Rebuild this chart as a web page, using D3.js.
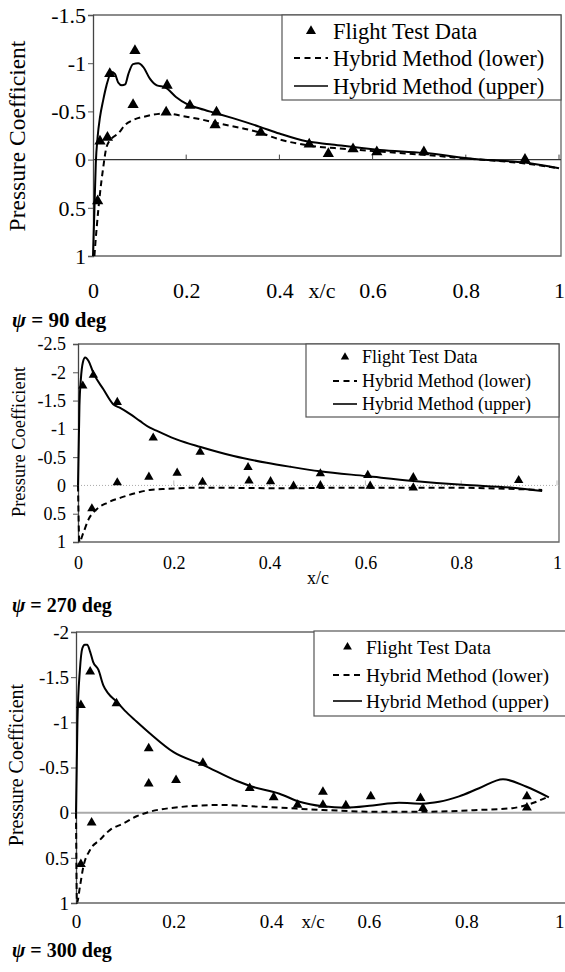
<!DOCTYPE html>
<html><head><meta charset="utf-8">
<script src="https://cdn.jsdelivr.net/npm/d3@7"></script>
<style>body{margin:0;background:#fff}svg{display:block}text{font-family:"Times New Roman","Liberation Serif",serif;fill:#000}</style>
</head><body>
<script>
// ---- Data (x/c, Cp) ----
const xTicks = [0, 0.2, 0.4, 0.6, 0.8, 1];
const yTicks90 = [-1.5, -1, -0.5, 0, 0.5, 1];
const yTicks270 = [-2.5, -2, -1.5, -1, -0.5, 0, 0.5, 1];
const yTicks300 = [-2, -1.5, -1, -0.5, 0, 0.5, 1];
const legendLabels = ["Flight Test Data", "Hybrid Method (lower)", "Hybrid Method (upper)"];
const titles = ["90", "270", "300"];

const test90 = [[0.01,0.43],[0.015,-0.19],[0.031,-0.23],[0.036,-0.89],[0.086,-0.57],[0.09,-1.13],[0.157,-0.49],[0.159,-0.77],[0.208,-0.56],[0.262,-0.36],[0.265,-0.49],[0.36,-0.28],[0.464,-0.16],[0.505,-0.06],[0.558,-0.11],[0.609,-0.08],[0.71,-0.08],[0.927,0.0]];
const upper90 = [[0,1],[0.003,0.53],[0.006,0.04],[0.01,-0.24],[0.015,-0.44],[0.022,-0.62],[0.029,-0.77],[0.04,-0.91],[0.047,-0.89],[0.054,-0.80],[0.062,-0.77],[0.069,-0.78],[0.076,-0.89],[0.086,-0.99],[0.097,-1.0],[0.108,-0.96],[0.122,-0.84],[0.137,-0.77],[0.155,-0.75],[0.178,-0.65],[0.20,-0.58],[0.229,-0.53],[0.265,-0.48],[0.30,-0.43],[0.358,-0.34],[0.40,-0.27],[0.458,-0.19],[0.508,-0.16],[0.616,-0.10],[0.709,-0.07],[0.83,0.0],[0.927,0.03],[1.0,0.09]];
const lower90 = [[0.003,1.0],[0.008,0.70],[0.015,0.35],[0.022,0.08],[0.029,-0.13],[0.04,-0.22],[0.054,-0.27],[0.069,-0.36],[0.086,-0.41],[0.114,-0.45],[0.157,-0.48],[0.194,-0.45],[0.229,-0.42],[0.265,-0.38],[0.358,-0.28],[0.40,-0.21],[0.458,-0.15],[0.544,-0.11],[0.709,-0.05],[0.83,0.0],[0.927,0.04],[1.0,0.09]];

const test270 = [[0.01,-1.76],[0.032,-1.95],[0.082,-1.47],[0.082,-0.05],[0.029,0.41],[0.157,-0.84],[0.148,-0.15],[0.207,-0.22],[0.255,-0.59],[0.26,-0.06],[0.355,-0.32],[0.357,-0.08],[0.402,-0.07],[0.45,0.01],[0.506,-0.21],[0.506,0.0],[0.605,-0.18],[0.61,0.01],[0.70,-0.14],[0.70,0.04],[0.92,-0.09]];
const upper270 = [[0,0],[0.003,-1.40],[0.006,-1.88],[0.01,-2.17],[0.015,-2.26],[0.022,-2.20],[0.032,-1.99],[0.053,-1.70],[0.074,-1.43],[0.088,-1.37],[0.109,-1.26],[0.129,-1.14],[0.15,-1.02],[0.166,-0.96],[0.207,-0.81],[0.256,-0.68],[0.325,-0.52],[0.394,-0.40],[0.443,-0.33],[0.505,-0.25],[0.602,-0.165],[0.70,-0.08],[0.803,-0.01],[0.907,0.04],[0.969,0.10]];
const lower270 = [[0,0],[0.003,1.0],[0.011,0.84],[0.022,0.60],[0.039,0.42],[0.06,0.31],[0.088,0.22],[0.123,0.13],[0.15,0.08],[0.186,0.06],[0.256,0.04],[0.443,0.05],[0.56,0.04],[0.77,0.04],[0.969,0.08]];

const test300 = [[0.010,-1.19],[0.029,-1.56],[0.083,-1.21],[0.032,0.11],[0.010,0.57],[0.149,-0.71],[0.149,-0.32],[0.205,-0.36],[0.26,-0.55],[0.356,-0.27],[0.405,-0.17],[0.454,-0.085],[0.506,-0.23],[0.506,-0.085],[0.553,-0.08],[0.604,-0.18],[0.706,-0.16],[0.711,-0.05],[0.924,-0.18],[0.924,-0.055]];
const upper300 = [[0,0],[0.003,-1.02],[0.008,-1.58],[0.013,-1.82],[0.018,-1.86],[0.023,-1.86],[0.029,-1.78],[0.035,-1.67],[0.046,-1.58],[0.056,-1.41],[0.066,-1.32],[0.083,-1.23],[0.10,-1.13],[0.124,-1.01],[0.151,-0.88],[0.2,-0.67],[0.26,-0.53],[0.33,-0.35],[0.36,-0.29],[0.417,-0.21],[0.458,-0.12],[0.506,-0.07],[0.553,-0.055],[0.608,-0.08],[0.662,-0.11],[0.71,-0.10],[0.744,-0.12],[0.785,-0.18],[0.826,-0.27],[0.875,-0.37],[0.922,-0.29],[0.969,-0.17]];
const lower300 = [[0,0],[0.002,1.0],[0.008,0.82],[0.015,0.60],[0.029,0.41],[0.049,0.30],[0.07,0.19],[0.097,0.12],[0.124,0.04],[0.151,-0.01],[0.2,-0.055],[0.3,-0.085],[0.36,-0.07],[0.417,-0.055],[0.506,-0.03],[0.62,-0.01],[0.71,-0.01],[0.826,-0.03],[0.894,-0.05],[0.924,-0.085],[0.969,-0.18]];

const W = 565, H = 972;
const svg = d3.select("body").append("svg").attr("width", W).attr("height", H);
const SERIF = '"Times New Roman","Liberation Serif",serif';
const fmt = d => String(d);

const panels = [
  {x0:93, x1:559, frameR:561, yTop:15, yBot:256, yDom:[-1.5,1], yTicks:yTicks90, fs:22, titleFs:21,
   test:test90, upper:upper90, lower:lower90, tri:55,
   xlabY:298, xcX:322, xcY:298, ylabR:86, yTitleX:25, yTitleY:136, yTitleFs:23.5,
   zero:"solid", titleY:327,
   leg:{x:282, y:15, w:279, h:85, rows:[31,58,86], sx0:294, sx1:328, tx:333, fs:22.5}},
  {x0:78, x1:557, frameR:559, yTop:344, yBot:542, yDom:[-2.5,1], yTicks:yTicks270, fs:18, titleFs:20,
   test:test270, upper:upper270, lower:lower270, tri:38,
   xlabY:569, xcX:318, xcY:584, ylabR:66, yTitleX:25, yTitleY:442, yTitleFs:18.5,
   zero:"dotted", titleY:612,
   leg:{x:306, y:344, w:253, h:73, rows:[357,381,404], sx0:333, sx1:357, tx:362, fs:18}},
  {x0:76, x1:564, frameR:567, yTop:632, yBot:903, yDom:[-2,1], yTicks:yTicks300, fs:19, titleFs:20,
   test:test300, upper:upper300, lower:lower300, tri:42,
   xlabY:928, xcX:313, xcY:928, ylabR:69, yTitleX:23, yTitleY:765, yTitleFs:20,
   zero:"thick", titleY:957,
   leg:{x:314, y:631, w:260, h:85, rows:[647,675,701], sx0:333, sx1:362, tx:366, fs:19.5}}
];

panels.forEach((p, i) => {
  const g = svg.append("g");
  const x = d3.scaleLinear().domain([0,1]).range([p.x0, p.x1]);
  const y = d3.scaleLinear().domain(p.yDom).range([p.yTop, p.yBot]);

  // frame
  g.append("path").attr("d", `M${p.x0},${p.yTop}H${p.frameR}V${p.yBot}H${p.x0}`)
    .attr("fill","none").attr("stroke","#666").attr("stroke-width",1.3);

  // zero line
  const zl = g.append("line").attr("x1",p.x0).attr("x2",p.frameR).attr("y1",y(0)).attr("y2",y(0));
  if (p.zero === "solid") zl.attr("stroke","#333").attr("stroke-width",1.2);
  else if (p.zero === "dotted") zl.attr("stroke","#aaa").attr("stroke-width",1).attr("stroke-dasharray","1,2");
  else zl.attr("stroke","#aaa").attr("stroke-width",2);
  if (p.zero !== "thick") {
    g.selectAll(".zt").data(xTicks.slice(1)).enter().append("line")
      .attr("x1", d=>x(d)).attr("x2", d=>x(d)).attr("y1", y(0)).attr("y2", y(0)-5)
      .attr("stroke", p.zero==="solid" ? "#444" : "#bbb").attr("stroke-width",1);
  }

  // left y axis
  const yAxis = d3.axisLeft(y).tickValues(p.yTicks).tickSize(5).tickFormat(fmt);
  const ya = g.append("g").attr("transform",`translate(${p.x0},0)`).call(yAxis);
  ya.attr("font-family", null);
  ya.select(".domain").attr("stroke","#444").attr("stroke-width",1.3);
  ya.selectAll(".tick line").attr("stroke","#555");
  ya.selectAll(".tick text").attr("x", p.ylabR - p.x0).attr("dy","0.33em")
    .style("font-family",SERIF).style("font-size",p.fs+"px").attr("fill","#000");

  // x tick labels (at bottom, "low" position)
  const xa = d3.axisBottom(x).tickValues(xTicks).tickSize(0).tickFormat(fmt);
  const xg = g.append("g").attr("transform",`translate(0,${p.xlabY})`).call(xa);
  xg.attr("font-family", null);
  xg.select(".domain").remove();
  xg.selectAll(".tick text").attr("y",0).attr("dy",0)
    .style("font-family",SERIF).style("font-size",p.fs+"px").attr("fill","#000")
    .attr("text-anchor", d => (x(d) + 6 > W) ? "end" : "middle")
    .attr("x", d => (x(d) + 6 > W) ? W - x(d) - 1 : 0);
  g.append("text").attr("x",p.xcX).attr("y",p.xcY).attr("text-anchor","middle")
    .style("font-size",p.fs+"px").text("x/c");

  // y title
  g.append("text").attr("transform",`translate(${p.yTitleX},${p.yTitleY}) rotate(-90)`)
    .attr("text-anchor","middle").style("font-size",p.yTitleFs+"px").text("Pressure Coefficient");

  // curves
  const line = d3.line().x(d=>x(d[0])).y(d=>y(d[1])).curve(d3.curveMonotoneX);
  g.append("path").datum(p.lower).attr("d",line).attr("fill","none").attr("stroke","#000")
    .attr("stroke-width",2).attr("stroke-dasharray","6,4");
  g.append("path").datum(p.upper).attr("d",line).attr("fill","none").attr("stroke","#000")
    .attr("stroke-width",2);

  // test points
  const sym = d3.symbol().type(d3.symbolTriangle).size(p.tri);
  g.selectAll(".tp").data(p.test).enter().append("path")
    .attr("d", sym).attr("transform", d=>`translate(${x(d[0])},${y(d[1])})`).attr("fill","#000");

  // legend
  const L = p.leg;
  g.append("rect").attr("x",L.x).attr("y",L.y).attr("width",L.w).attr("height",L.h)
    .attr("fill","#fff").attr("stroke","#555").attr("stroke-width",1.2);
  const lg = g.append("g");
  lg.append("path").attr("d", d3.symbol().type(d3.symbolTriangle).size(p.tri*0.8))
    .attr("transform",`translate(${(L.sx0+L.sx1)/2},${L.rows[0]})`);
  lg.append("line").attr("x1",L.sx0).attr("x2",L.sx1).attr("y1",L.rows[1]).attr("y2",L.rows[1])
    .attr("stroke","#000").attr("stroke-width",2).attr("stroke-dasharray","6,4.5");
  lg.append("line").attr("x1",L.sx0).attr("x2",L.sx1).attr("y1",L.rows[2]).attr("y2",L.rows[2])
    .attr("stroke","#000").attr("stroke-width",1.6);
  legendLabels.forEach((t,k) => {
    lg.append("text").attr("x",L.tx).attr("y",L.rows[k]).attr("dy","0.35em")
      .style("font-size",L.fs+"px").text(t);
  });

  // title
  const tt = g.append("text").attr("x",12).attr("y",p.titleY).style("font-size",p.titleFs+"px").style("font-weight","bold");
  tt.append("tspan").style("font-style","italic").text("ψ");
  tt.append("tspan").text(" = " + titles[i] + " deg");
});
</script>
</body></html>
